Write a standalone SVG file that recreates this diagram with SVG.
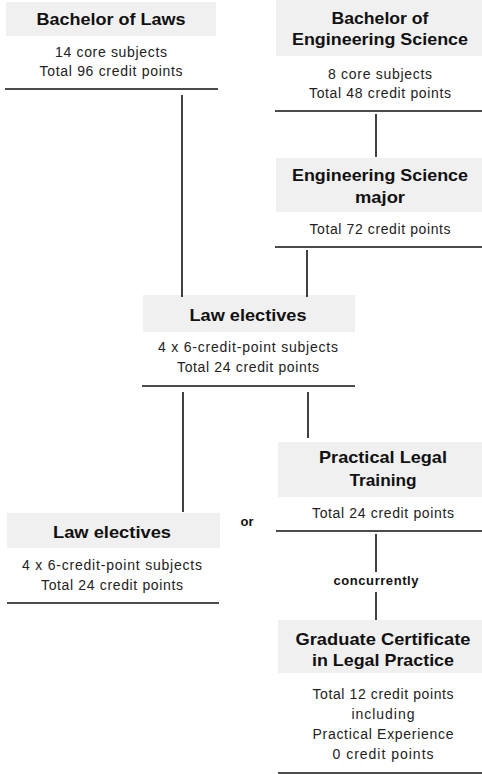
<svg xmlns="http://www.w3.org/2000/svg" width="482" height="774" viewBox="0 0 482 774">
<style>
.band{fill:#f0f0f0}
.title{font-family:"Liberation Sans",Arial,sans-serif;font-weight:bold;font-size:16.5px;fill:#111;text-anchor:middle}
.body{font-family:"Liberation Sans",Arial,sans-serif;font-size:14px;fill:#222;text-anchor:middle}
.rule{stroke:#111;stroke-width:1.6;fill:none}
.conn line{stroke:#111;stroke-width:1.6}
.small{font-family:"Liberation Sans",Arial,sans-serif;font-weight:bold;font-size:13px;fill:#111;text-anchor:middle}
</style>
<rect width="482" height="774" fill="#fff"/>
<g id="bachelor-laws">
<rect class="band" x="6" y="2" width="210" height="34"/>
<text class="title" x="111" y="25" textLength="149" lengthAdjust="spacingAndGlyphs">Bachelor of Laws</text>
<text class="body" x="111" y="57" textLength="112">14 core subjects</text>
<text class="body" x="111" y="76" textLength="143">Total 96 credit points</text>
<line class="rule" x1="5" y1="89" x2="218" y2="89"/>
</g>
<g id="bachelor-eng">
<rect class="band" x="276" y="0" width="206" height="56"/>
<text class="title" x="380" y="24" textLength="97" lengthAdjust="spacingAndGlyphs">Bachelor of</text>
<text class="title" x="380" y="45" textLength="176" lengthAdjust="spacingAndGlyphs">Engineering Science</text>
<text class="body" x="380" y="79" textLength="104">8 core subjects</text>
<text class="body" x="380" y="98" textLength="142">Total 48 credit points</text>
<line class="rule" x1="275" y1="111" x2="482" y2="111"/>
</g>
<g id="eng-major">
<rect class="band" x="276" y="158" width="206" height="54"/>
<text class="title" x="380" y="181" textLength="176" lengthAdjust="spacingAndGlyphs">Engineering Science</text>
<text class="title" x="380" y="203" textLength="50" lengthAdjust="spacingAndGlyphs">major</text>
<text class="body" x="380" y="234" textLength="141">Total 72 credit points</text>
<line class="rule" x1="275" y1="247" x2="482" y2="247"/>
</g>
<g id="law-electives-1">
<rect class="band" x="143" y="295" width="212" height="37"/>
<text class="title" x="248" y="321" textLength="117" lengthAdjust="spacingAndGlyphs">Law electives</text>
<text class="body" x="248" y="352" textLength="180">4 x 6-credit-point subjects</text>
<text class="body" x="248" y="372" textLength="142">Total 24 credit points</text>
<line class="rule" x1="142" y1="386" x2="355" y2="386"/>
</g>
<g id="law-electives-2">
<rect class="band" x="7" y="513" width="213" height="35"/>
<text class="title" x="112" y="538" textLength="118" lengthAdjust="spacingAndGlyphs">Law electives</text>
<text class="body" x="112" y="570" textLength="180">4 x 6-credit-point subjects</text>
<text class="body" x="112" y="590" textLength="142">Total 24 credit points</text>
<line class="rule" x1="7" y1="603" x2="219" y2="603"/>
</g>
<g id="plt">
<rect class="band" x="278" y="442" width="204" height="55"/>
<text class="title" x="383" y="463" textLength="128" lengthAdjust="spacingAndGlyphs">Practical Legal</text>
<text class="title" x="383" y="486" textLength="67" lengthAdjust="spacingAndGlyphs">Training</text>
<text class="body" x="383" y="518" textLength="142">Total 24 credit points</text>
<line class="rule" x1="276" y1="531" x2="482" y2="531"/>
</g>
<g id="grad-cert">
<rect class="band" x="278" y="620" width="204" height="53"/>
<text class="title" x="383" y="645" textLength="175" lengthAdjust="spacingAndGlyphs">Graduate Certificate</text>
<text class="title" x="383" y="666" textLength="142" lengthAdjust="spacingAndGlyphs">in Legal Practice</text>
<text class="body" x="383" y="699" textLength="141">Total 12 credit points</text>
<text class="body" x="383" y="719" textLength="63">including</text>
<text class="body" x="383" y="739" textLength="141">Practical Experience</text>
<text class="body" x="383" y="759" textLength="101">0 credit points</text>
<line class="rule" x1="278" y1="773" x2="482" y2="773"/>
</g>
<g id="connectors" class="conn">
<line x1="182" y1="95" x2="182" y2="297"/>
<line x1="376" y1="114" x2="376" y2="157"/>
<line x1="307" y1="250" x2="307" y2="297"/>
<line x1="183" y1="392" x2="183" y2="512"/>
<line x1="308" y1="392" x2="308" y2="438"/>
<line x1="376" y1="534" x2="376" y2="572"/>
<line x1="376" y1="592" x2="376" y2="620"/>
<text class="small" x="247" y="526">or</text>
<text class="small" x="376" y="585" textLength="85">concurrently</text>
</g>
</svg>
